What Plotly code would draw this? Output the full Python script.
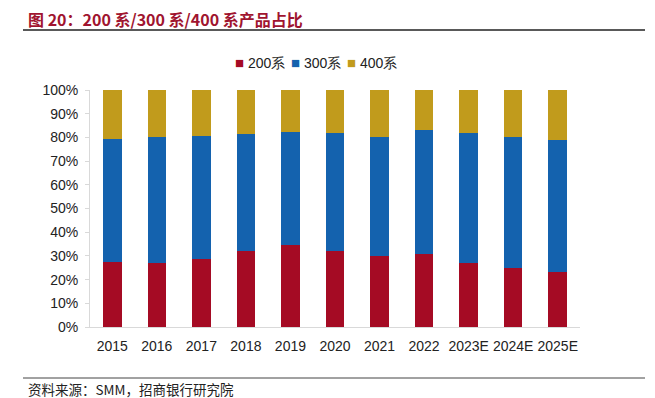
import plotly.graph_objects as go

years = ["2015", "2016", "2017", "2018", "2019", "2020", "2021", "2022", "2023E", "2024E", "2025E"]
s200 = [27.5, 27.1, 28.9, 32.0, 34.4, 32.2, 30.1, 31.0, 27.2, 25.0, 23.3]
s300 = [52.0, 53.0, 51.9, 49.5, 48.0, 49.8, 50.1, 52.3, 54.5, 55.1, 55.6]
s400 = [20.5, 19.9, 19.2, 18.5, 17.6, 18.0, 19.8, 16.7, 18.3, 19.9, 21.1]
yticks = [0, 10, 20, 30, 40, 50, 60, 70, 80, 90, 100]
yticklabels = [f"{v}%" for v in yticks]
names = ["200系", "300系", "400系"]
colors = ["#A50B24", "#1462AE", "#C19B1C"]

OFF = 8  # page body margin
W, H = 655 - OFF, 398 - OFF
L, T = 90 - OFF, 90 - OFF
pw, ph = 490, 237
R, B = W - L - pw, H - T - ph


def px(x):
    return (x - OFF - L) / pw


def py(y):
    return (H - B - (y - OFF)) / ph


fig = go.Figure()
for name, vals, col in zip(names, [s200, s300, s400], colors):
    fig.add_trace(go.Bar(x=years, y=vals, name=name, marker=dict(color=col, line=dict(width=0))))

fig.update_layout(
    width=W, height=H,
    margin=dict(l=L, r=R, t=T, b=B),
    barmode="stack", bargap=0.585,
    plot_bgcolor="white", paper_bgcolor="white",
    font=dict(family="Arial, Liberation Sans, sans-serif", size=14, color="#222"),
    showlegend=False,
)
fig.update_xaxes(showline=True, linecolor="#D9D9D9", linewidth=1, ticks="", showgrid=False,
                 tickfont=dict(size=14, color="#222"), ticklabelstandoff=6)
fig.update_yaxes(range=[0, 100], tickvals=yticks, ticktext=yticklabels, showgrid=False,
                 showline=True, linecolor="#D9D9D9", linewidth=1, ticks="outside", ticklen=4,
                 tickcolor="#D9D9D9", tickfont=dict(size=14, color="#222"), zeroline=False,
                 ticklabelstandoff=4)

# legend as text row
leg_x = [233, 289, 345]
for nm, col, lx in zip(names, colors, leg_x):
    fig.add_annotation(text=f"<span style='color:{col};font-size:15px'>■</span> {nm}",
                       xref="paper", yref="paper",
                       x=px(lx), y=py(62), xanchor="left", yanchor="middle", showarrow=False,
                       font=dict(size=14, color="#222"))

fig.add_annotation(text="图 20：200 系/300 系/400 系产品占比", xref="paper", yref="paper",
                   x=px(27), y=py(19), xanchor="left", yanchor="middle", showarrow=False,
                   borderpad=0,
                   font=dict(family="Noto Sans CJK SC", size=16, color="#A0142F", weight="bold"))
fig.add_annotation(text="资料来源：SMM，招商银行研究院", xref="paper", yref="paper",
                   x=px(26), y=py(389), xanchor="left", yanchor="middle", showarrow=False,
                   font=dict(family="Noto Sans CJK SC", size=13.5, color="#222"))
fig.add_shape(type="line", xref="paper", yref="paper", x0=px(23), x1=px(645), y0=py(30), y1=py(30),
              line=dict(color="#222", width=1.5))
fig.add_shape(type="line", xref="paper", yref="paper", x0=px(23), x1=px(645), y0=py(378), y1=py(378),
              line=dict(color="#444", width=1))

fig.write_html("out.html")
